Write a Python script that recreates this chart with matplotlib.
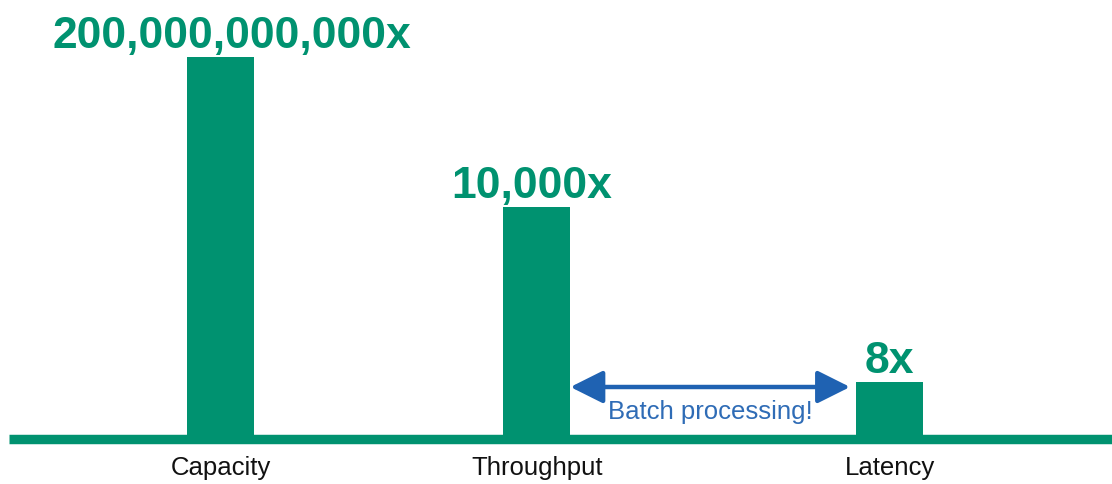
import matplotlib
matplotlib.use("Agg")
import matplotlib.pyplot as plt

categories = ["Capacity", "Throughput", "Latency"]
bar_heights = [382, 232, 57]          # visual bar heights (not to scale with labels)
value_labels = ["200,000,000,000x", "10,000x", "8x"]
arrow_text = "Batch processing!"

GREEN = "#009270"
BLUE = "#1F62B2"
TEXT_BLUE = "#2F6CB6"

plt.rcParams["font.family"] = ["Liberation Sans", "DejaVu Sans"]

fig = plt.figure(figsize=(11.12, 4.85), dpi=100)
ax = fig.add_axes([0, 0, 1, 1])

xpos = [0, 1, 2.117]
width = 0.212

ax.bar(xpos, bar_heights, width=width, color=GREEN, zorder=2)
ax.set_xlim(-0.699, 2.82)
ax.set_ylim(-45, 440)
ax.axis("off")

# baseline
ax.hlines(0, -0.67, 2.82, color=GREEN, linewidth=6.8, zorder=3)

# value labels
label_dx = [8, -4, 0]
for x, h, lab, dx in zip(xpos, bar_heights, value_labels, label_dx):
    ax.annotate(lab, (x, h), xytext=(dx, 7), textcoords="offset points",
                ha="center", va="baseline", fontsize=32, fontweight="bold",
                color=GREEN)

# category labels
for x, lab in zip(xpos, categories):
    ax.text(x, -28, lab, ha="center", va="center", fontsize=18.5, color="#111111")

# arrow
x0 = xpos[1] + width / 2
x1 = xpos[2] - width / 2 - 0.02
ax.annotate("", xy=(x1, 52), xytext=(x0, 52),
            arrowprops=dict(arrowstyle="<|-|>,head_length=1.0,head_width=0.5",
                            color=BLUE, lw=3.2, shrinkA=0, shrinkB=0,
                            mutation_scale=20))
ax.text((x0 + x1) / 2, 28, arrow_text, ha="center", va="center",
        fontsize=18.5, color=TEXT_BLUE)

fig.savefig("out.png", dpi=100)
